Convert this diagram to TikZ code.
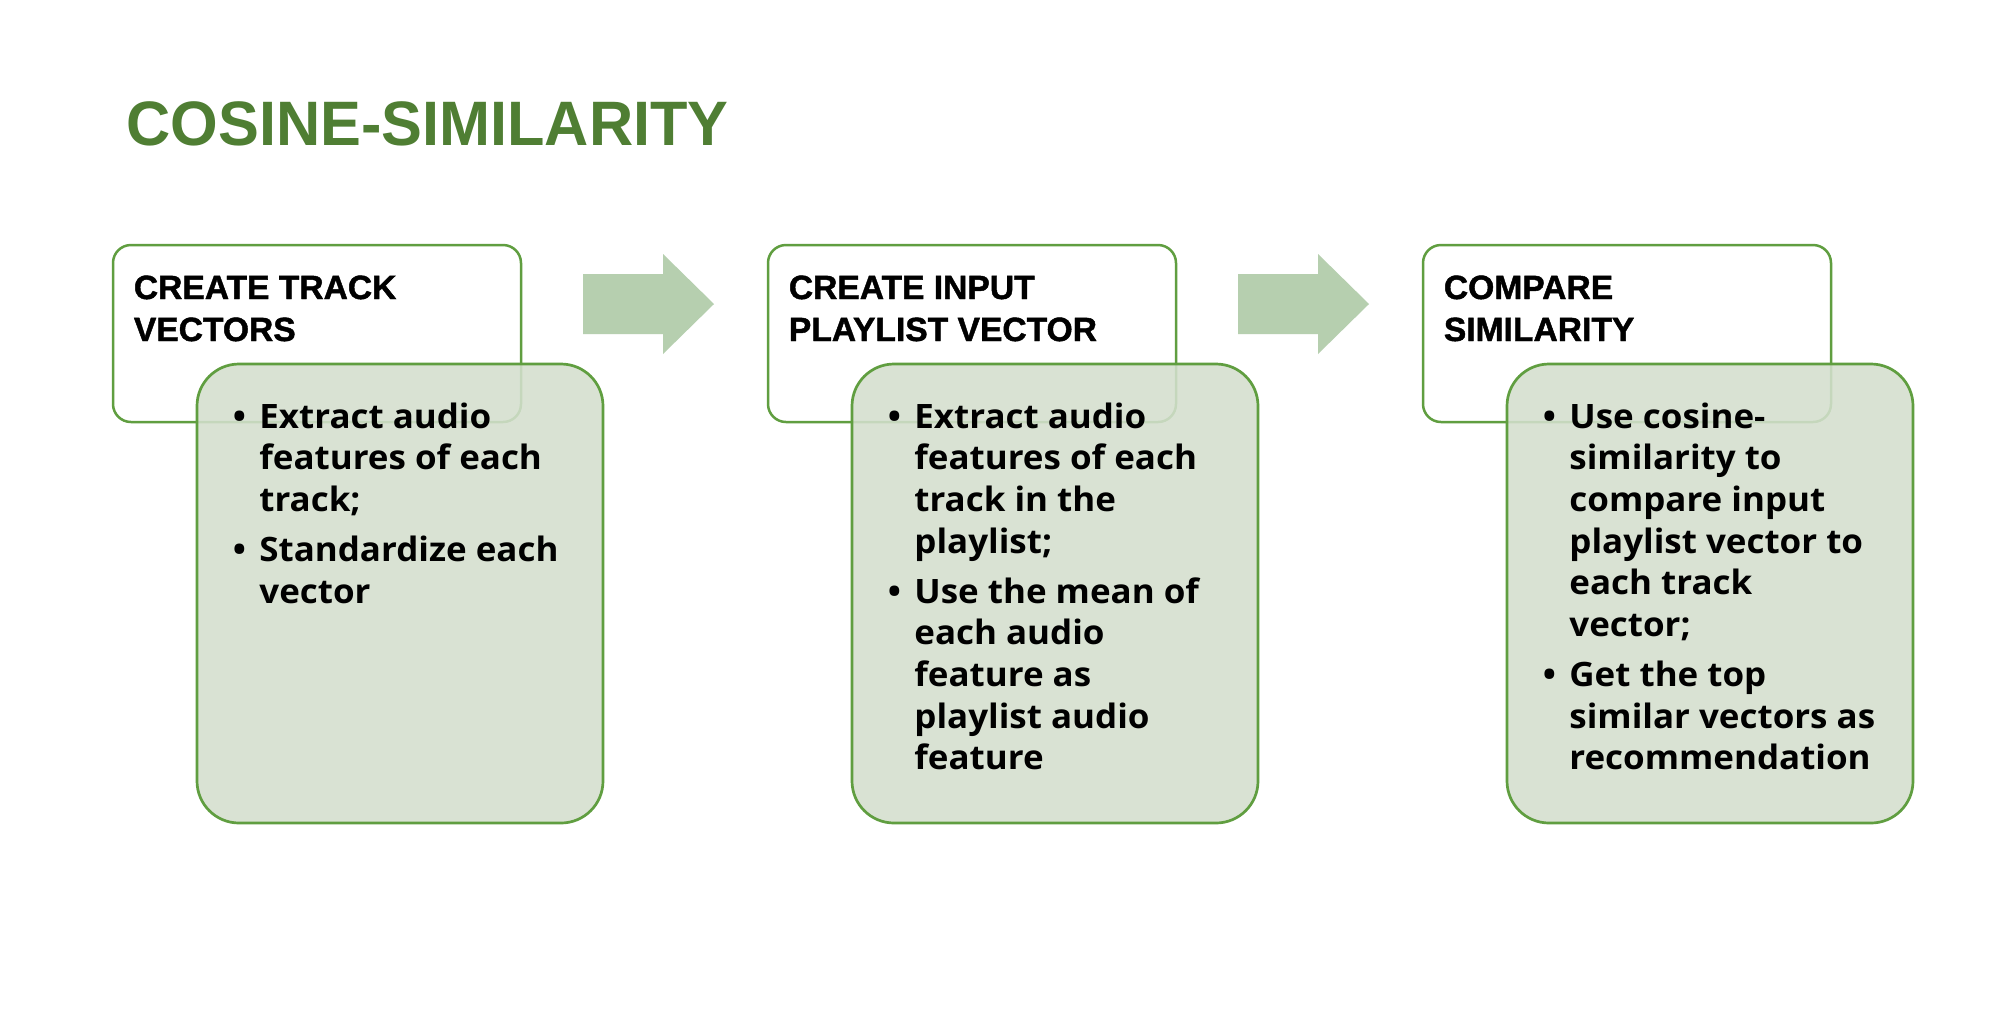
\documentclass[tikz,border=0pt]{standalone}
\usepackage{fontspec}
\usepackage{graphicx}
\setmainfont{Open Sans}
\newfontfamily\bodyfont[FakeStretch=1.04]{Open Sans}
\newfontfamily\titlefont{Liberation Sans}
\newfontfamily\headfont[BoldFeatures={FakeBold=1.3}]{Liberation Sans}

\definecolor{titlegreen}{HTML}{4F7E33}
\definecolor{edgegreen}{HTML}{609E40}
\definecolor{panelgreen}{RGB}{212,223,206}
\definecolor{arrowgreen}{HTML}{B6CFAF}

% bullet of fixed width, centred
\newcommand\blt{\makebox[10pt][c]{\textbullet}}

\tikzset{
  headbox/.style={draw=edgegreen, line width=1.25pt, fill=white, rounded corners=9pt},
  panelbox/.style={draw=edgegreen, line width=1.35pt, fill=panelgreen, fill opacity=0.88, rounded corners=21pt},
  flowarrow/.style={fill=arrowgreen, draw=none},
  headtext/.style={anchor=base west, inner sep=0pt, font=\headfont\bfseries\fontsize{16.8pt}{21pt}\selectfont},
  bodytext/.style={anchor=base west, inner sep=0pt, font=\bodyfont\bfseries\fontsize{16.8pt}{20.85pt}\selectfont},
}

\begin{document}
\begin{tikzpicture}[x=0.5pt, y=-0.5pt]
\useasboundingbox (0,0) rectangle (1992,1008);
\fill[white] (0,0) rectangle (1992,1008);

% title
\node[anchor=base west, inner sep=0pt, text=titlegreen,
      font=\titlefont\bfseries\fontsize{31.4pt}{36pt}\selectfont] (title) at (126,145)
  {\scalebox{0.975}[1]{COSINE-SIMILARITY}};

% ---------- stage 1 ----------
\draw[headbox] (113,245) rectangle (521,422);
\node[headtext] (head1) at (133.5,299)
  {\begin{tabular}[t]{@{}l@{}}CREATE TRACK\\VECTORS\end{tabular}};
\draw[panelbox] (197,364) rectangle (603,823);
\node[bodytext] (body1) at (229,428)
  {\begin{tabular}[t]{@{}l@{\hspace{5pt}}l@{}}
   \blt & Extract audio\\
        & features of each\\
        & track;\\[4.15pt]
   \blt & Standardize each\\
        & vector
   \end{tabular}};

% arrow 1 -> 2
\fill[flowarrow] (583,274) -- (663,274) -- (663,254) -- (714,304)
  -- (663,354) -- (663,334) -- (583,334) -- cycle;

% ---------- stage 2 ----------
\begin{scope}[shift={(655,0)}]
\draw[headbox] (113,245) rectangle (521,422);
\node[headtext] (head2) at (133.5,299)
  {\begin{tabular}[t]{@{}l@{}}CREATE INPUT\\PLAYLIST VECTOR\end{tabular}};
\draw[panelbox] (197,364) rectangle (603,823);
\node[bodytext] (body2) at (229,428)
  {\begin{tabular}[t]{@{}l@{\hspace{5pt}}l@{}}
   \blt & Extract audio\\
        & features of each\\
        & track in the\\
        & playlist;\\[4.15pt]
   \blt & Use the mean of\\
        & each audio\\
        & feature as\\
        & playlist audio\\
        & feature
   \end{tabular}};
\fill[flowarrow] (583,274) -- (663,274) -- (663,254) -- (714,304)
  -- (663,354) -- (663,334) -- (583,334) -- cycle;
\end{scope}

% ---------- stage 3 ----------
\begin{scope}[shift={(1310,0)}]
\draw[headbox] (113,245) rectangle (521,422);
\node[headtext] (head3) at (133.5,299)
  {\begin{tabular}[t]{@{}l@{}}COMPARE\\SIMILARITY\end{tabular}};
\draw[panelbox] (197,364) rectangle (603,823);
\node[bodytext] (body3) at (229,428)
  {\begin{tabular}[t]{@{}l@{\hspace{5pt}}l@{}}
   \blt & Use cosine-\\
        & similarity to\\
        & compare input\\
        & playlist vector to\\
        & each track\\
        & vector;\\[4.15pt]
   \blt & Get the top\\
        & similar vectors as\\
        & recommendation
   \end{tabular}};
\end{scope}
\end{tikzpicture}
\end{document}
